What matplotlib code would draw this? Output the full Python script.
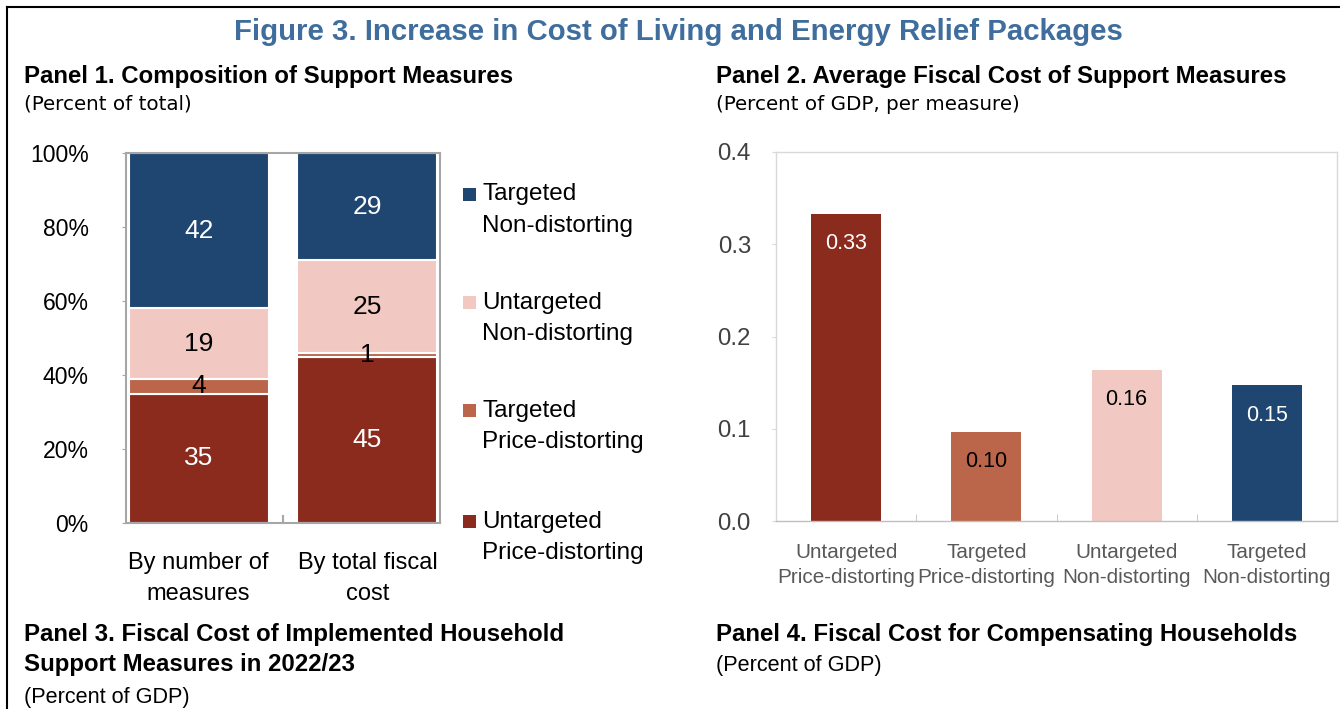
import numpy as np
import matplotlib
matplotlib.use("Agg")
import matplotlib.pyplot as plt
from matplotlib import font_manager as fm
from matplotlib.lines import Line2D
from matplotlib.patches import Rectangle
from matplotlib.ticker import FuncFormatter

# panel 1: composition of support measures (percent of total)
p1_groups = ["By number of\nmeasures", "By total fiscal\ncost"]
p1_series = ["Untargeted\nPrice-distorting", "Targeted\nPrice-distorting",
             "Untargeted\nNon-distorting", "Targeted\nNon-distorting"]
p1_untargeted_price = [35, 45]
p1_targeted_price = [4, 1]
p1_untargeted_non = [19, 25]
p1_targeted_non = [42, 29]

# panel 2: average fiscal cost per measure (percent of GDP)
p2_categories = ["Untargeted\nPrice-distorting", "Targeted\nPrice-distorting",
                 "Untargeted\nNon-distorting", "Targeted\nNon-distorting"]
p2_values = [0.333, 0.097, 0.164, 0.147]

colors = ["#8A2B1E", "#BB654A", "#F2C9C2", "#1F4670"]
text_colors = ["white", "black", "black", "white"]


def first_font(names):
    for n in names:
        try:
            fm.findfont(fm.FontProperties(family=n), fallback_to_default=False)
            return n
        except ValueError:
            pass
    return "DejaVu Sans"


# no condensed face is installed, so sizes below are picked to match text widths
NARROW = first_font(["Liberation Sans Narrow", "Liberation Sans"])

W, H = 1340, 709
fig = plt.figure(figsize=(W / 100, H / 100), dpi=100)
fig.patch.set_facecolor("white")

# frame lines (top and left)
fig.add_artist(Line2D([7 / W, 1], [1 - 7 / H, 1 - 7 / H], transform=fig.transFigure, color="black", lw=1.5))
fig.add_artist(Line2D([7 / W, 7 / W], [0, 1 - 7 / H], transform=fig.transFigure, color="black", lw=1.5))

# titles
fig.text(678 / W, 1 - 32 / H, "Figure 3. Increase in Cost of Living and Energy Relief Packages",
         ha="center", va="center", fontsize=21.2, fontweight="bold", color="#3F6E9E", family=NARROW)


def panel_title(x, y, s):
    fig.text(x / W, 1 - y / H, s, ha="left", va="center", fontsize=17.3, fontweight="bold", family=NARROW)


def panel_sub(x, y, s, narrow=False):
    if narrow:
        fig.text(x / W, 1 - y / H, s, ha="left", va="center", fontsize=15.6, family=NARROW)
    else:
        fig.text(x / W, 1 - y / H, s, ha="left", va="center", fontsize=14.3, family="DejaVu Sans")


panel_title(24, 77, "Panel 1. Composition of Support Measures")
panel_sub(24, 104, "(Percent of total)")
panel_title(716, 77, "Panel 2. Average Fiscal Cost of Support Measures")
panel_sub(716, 104, "(Percent of GDP, per measure)")
panel_title(24, 634, "Panel 3. Fiscal Cost of Implemented Household")
panel_title(24, 665, "Support Measures in 2022/23")
panel_sub(24, 697, "(Percent of GDP)", narrow=True)
panel_title(716, 634, "Panel 4. Fiscal Cost for Compensating Households")
panel_sub(716, 666, "(Percent of GDP)", narrow=True)

# ---- panel 1 ----
ax1 = fig.add_axes([126 / W, 1 - 523 / H, 314 / W, 370 / H])
x1 = np.arange(len(p1_groups))
series_vals = [p1_untargeted_price, p1_targeted_price, p1_untargeted_non, p1_targeted_non]
bottom = np.zeros(len(p1_groups))
for vals, col, tcol in zip(series_vals, colors, text_colors):
    bars = ax1.bar(x1, vals, width=0.83, bottom=bottom, color=col, edgecolor="white", linewidth=1.5)
    ax1.bar_label(bars, labels=[str(v) for v in vals], label_type="center", color=tcol,
                  fontsize=19, family=NARROW)
    bottom += np.array(vals)

ax1.set_xlim(-0.43, 1.43)
ax1.set_ylim(0, 100)
ax1.set_yticks(range(0, 101, 20))
ax1.yaxis.set_major_formatter(FuncFormatter(lambda v, p: f"{v:.0f}%"))
ax1.set_xticks(x1)
ax1.set_xticklabels(p1_groups, linespacing=1.53)
ax1.set_xticks([0.5], minor=True)
ax1.tick_params(axis="x", which="major", length=0, pad=21, labelsize=17)
ax1.tick_params(axis="x", which="minor", direction="in", length=6, color="#A6A6A6", width=1.5)
ax1.tick_params(axis="y", direction="out", length=3, color="#A6A6A6", pad=24, labelsize=16.6)
for lab in ax1.get_xticklabels() + ax1.get_yticklabels():
    lab.set_family(NARROW)
for sp in ax1.spines.values():
    sp.set_color("#A6A6A6")
    sp.set_linewidth(1.5)

# legend drawn by hand so the square sits on the first line
leg_y = [0.889, 0.595, 0.303, 0.005]
sq_w, sq_h = 13 / 314, 13 / 370
for yc, name, col in zip(leg_y, p1_series[::-1], colors[::-1]):
    ax1.add_patch(Rectangle((1.073, yc - sq_h / 2), sq_w, sq_h, transform=ax1.transAxes,
                            clip_on=False, facecolor=col, edgecolor="none"))
    ax1.text(1.134, yc - 16 / 370, name, transform=ax1.transAxes, ha="left", va="center",
             fontsize=17.5, family=NARROW, linespacing=1.54)

# ---- panel 2 ----
ax2 = fig.add_axes([776 / W, 1 - 521 / H, 561 / W, 369 / H])
x2 = np.arange(len(p2_categories))
ax2.bar(x2, p2_values, width=0.5, color=colors)
for i, v in enumerate(p2_values):
    ax2.annotate(f"{v:.2f}", (x2[i], v), xytext=(0, -30), textcoords="offset pixels",
                 ha="center", va="center", color=text_colors[i], fontsize=15.5, family=NARROW)

ax2.set_xlim(-0.5, 3.5)
ax2.set_ylim(0, 0.4)
ax2.set_yticks(np.arange(0, 0.41, 0.1))
ax2.yaxis.set_major_formatter(FuncFormatter(lambda v, p: f"{v:.1f}"))
ax2.set_xticks(x2)
ax2.set_xticklabels(p2_categories, linespacing=1.41, color="#595959")
ax2.set_xticks([0.5, 1.5, 2.5], minor=True)
ax2.tick_params(axis="x", which="major", length=0, pad=16, labelsize=14.9)
ax2.tick_params(axis="x", which="minor", direction="in", length=5, color="#BFBFBF")
ax2.tick_params(axis="y", direction="out", length=3, color="#D9D9D9", pad=15, labelsize=17.3,
                labelcolor="#404040")
for lab in ax2.get_xticklabels() + ax2.get_yticklabels():
    lab.set_family(NARROW)
for name, sp in ax2.spines.items():
    sp.set_color("#D9D9D9")
    sp.set_linewidth(1.0)
ax2.spines["bottom"].set_color("#BFBFBF")

fig.savefig("out.png", dpi=100, facecolor="white")
